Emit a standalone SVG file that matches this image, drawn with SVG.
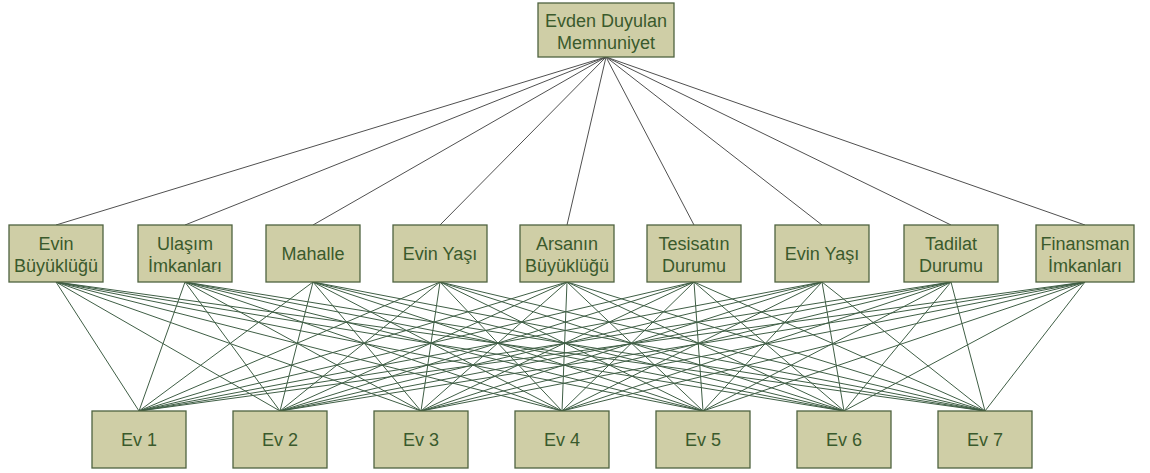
<svg xmlns="http://www.w3.org/2000/svg" width="1150" height="473" viewBox="0 0 1150 473">
<style>
.box{fill:#cfcea6;stroke:#4f6340;stroke-width:1.3}
.t{font-family:"Liberation Sans",Arial,sans-serif;font-size:18px;fill:#3a5a2c;text-anchor:middle}
.up line{stroke:#505050;stroke-width:1}
.dn line{stroke:#3f5e45;stroke-width:1}
</style>
<rect width="1150" height="473" fill="#ffffff"/>
<g id="connectors">
<g class="up">
<line x1="606" y1="57" x2="56" y2="225"/>
<line x1="606" y1="57" x2="185" y2="225"/>
<line x1="606" y1="57" x2="313" y2="225"/>
<line x1="606" y1="57" x2="440" y2="225"/>
<line x1="606" y1="57" x2="567" y2="225"/>
<line x1="606" y1="57" x2="694" y2="225"/>
<line x1="606" y1="57" x2="822" y2="225"/>
<line x1="606" y1="57" x2="951" y2="225"/>
<line x1="606" y1="57" x2="1085" y2="225"/>
</g>
<g class="dn">
<line x1="56" y1="282" x2="139" y2="411"/><line x1="56" y1="282" x2="280" y2="411"/><line x1="56" y1="282" x2="421" y2="411"/><line x1="56" y1="282" x2="562" y2="411"/><line x1="56" y1="282" x2="703" y2="411"/><line x1="56" y1="282" x2="844" y2="411"/><line x1="56" y1="282" x2="985" y2="411"/>
<line x1="185" y1="282" x2="139" y2="411"/><line x1="185" y1="282" x2="280" y2="411"/><line x1="185" y1="282" x2="421" y2="411"/><line x1="185" y1="282" x2="562" y2="411"/><line x1="185" y1="282" x2="703" y2="411"/><line x1="185" y1="282" x2="844" y2="411"/><line x1="185" y1="282" x2="985" y2="411"/>
<line x1="313" y1="282" x2="139" y2="411"/><line x1="313" y1="282" x2="280" y2="411"/><line x1="313" y1="282" x2="421" y2="411"/><line x1="313" y1="282" x2="562" y2="411"/><line x1="313" y1="282" x2="703" y2="411"/><line x1="313" y1="282" x2="844" y2="411"/><line x1="313" y1="282" x2="985" y2="411"/>
<line x1="440" y1="282" x2="139" y2="411"/><line x1="440" y1="282" x2="280" y2="411"/><line x1="440" y1="282" x2="421" y2="411"/><line x1="440" y1="282" x2="562" y2="411"/><line x1="440" y1="282" x2="703" y2="411"/><line x1="440" y1="282" x2="844" y2="411"/><line x1="440" y1="282" x2="985" y2="411"/>
<line x1="567" y1="282" x2="139" y2="411"/><line x1="567" y1="282" x2="280" y2="411"/><line x1="567" y1="282" x2="421" y2="411"/><line x1="567" y1="282" x2="562" y2="411"/><line x1="567" y1="282" x2="703" y2="411"/><line x1="567" y1="282" x2="844" y2="411"/><line x1="567" y1="282" x2="985" y2="411"/>
<line x1="694" y1="282" x2="139" y2="411"/><line x1="694" y1="282" x2="280" y2="411"/><line x1="694" y1="282" x2="421" y2="411"/><line x1="694" y1="282" x2="562" y2="411"/><line x1="694" y1="282" x2="703" y2="411"/><line x1="694" y1="282" x2="844" y2="411"/><line x1="694" y1="282" x2="985" y2="411"/>
<line x1="822" y1="282" x2="139" y2="411"/><line x1="822" y1="282" x2="280" y2="411"/><line x1="822" y1="282" x2="421" y2="411"/><line x1="822" y1="282" x2="562" y2="411"/><line x1="822" y1="282" x2="703" y2="411"/><line x1="822" y1="282" x2="844" y2="411"/><line x1="822" y1="282" x2="985" y2="411"/>
<line x1="951" y1="282" x2="139" y2="411"/><line x1="951" y1="282" x2="280" y2="411"/><line x1="951" y1="282" x2="421" y2="411"/><line x1="951" y1="282" x2="562" y2="411"/><line x1="951" y1="282" x2="703" y2="411"/><line x1="951" y1="282" x2="844" y2="411"/><line x1="951" y1="282" x2="985" y2="411"/>
<line x1="1085" y1="282" x2="139" y2="411"/><line x1="1085" y1="282" x2="280" y2="411"/><line x1="1085" y1="282" x2="421" y2="411"/><line x1="1085" y1="282" x2="562" y2="411"/><line x1="1085" y1="282" x2="703" y2="411"/><line x1="1085" y1="282" x2="844" y2="411"/><line x1="1085" y1="282" x2="985" y2="411"/>
</g>
</g>
<g id="root"><rect class="box" x="538" y="3" width="136" height="54"/><text class="t" x="606" y="27">Evden Duyulan</text><text class="t" x="606" y="49">Memnuniyet</text></g>
<g id="c1"><rect class="box" x="9" y="225" width="94" height="57"/><text class="t" x="56" y="250">Evin</text><text class="t" x="56" y="272">Büyüklüğü</text></g>
<g id="c2"><rect class="box" x="138" y="225" width="94" height="57"/><text class="t" x="185" y="250">Ulaşım</text><text class="t" x="185" y="272">İmkanları</text></g>
<g id="c3"><rect class="box" x="266" y="225" width="94" height="57"/><text class="t" x="313" y="260">Mahalle</text></g>
<g id="c4"><rect class="box" x="393" y="225" width="94" height="57"/><text class="t" x="440" y="260">Evin Yaşı</text></g>
<g id="c5"><rect class="box" x="520" y="225" width="94" height="57"/><text class="t" x="567" y="250">Arsanın</text><text class="t" x="567" y="272">Büyüklüğü</text></g>
<g id="c6"><rect class="box" x="647" y="225" width="94" height="57"/><text class="t" x="694" y="250">Tesisatın</text><text class="t" x="694" y="272">Durumu</text></g>
<g id="c7"><rect class="box" x="775" y="225" width="94" height="57"/><text class="t" x="822" y="260">Evin Yaşı</text></g>
<g id="c8"><rect class="box" x="904" y="225" width="94" height="57"/><text class="t" x="951" y="250">Tadilat</text><text class="t" x="951" y="272">Durumu</text></g>
<g id="c9"><rect class="box" x="1036" y="225" width="98" height="57"/><text class="t" x="1085" y="250">Finansman</text><text class="t" x="1085" y="272">İmkanları</text></g>
<g id="e1"><rect class="box" x="92" y="411" width="94" height="57"/><text class="t" x="139" y="446">Ev 1</text></g>
<g id="e2"><rect class="box" x="233" y="411" width="94" height="57"/><text class="t" x="280" y="446">Ev 2</text></g>
<g id="e3"><rect class="box" x="374" y="411" width="94" height="57"/><text class="t" x="421" y="446">Ev 3</text></g>
<g id="e4"><rect class="box" x="515" y="411" width="94" height="57"/><text class="t" x="562" y="446">Ev 4</text></g>
<g id="e5"><rect class="box" x="656" y="411" width="94" height="57"/><text class="t" x="703" y="446">Ev 5</text></g>
<g id="e6"><rect class="box" x="797" y="411" width="94" height="57"/><text class="t" x="844" y="446">Ev 6</text></g>
<g id="e7"><rect class="box" x="938" y="411" width="94" height="57"/><text class="t" x="985" y="446">Ev 7</text></g>
</svg>
